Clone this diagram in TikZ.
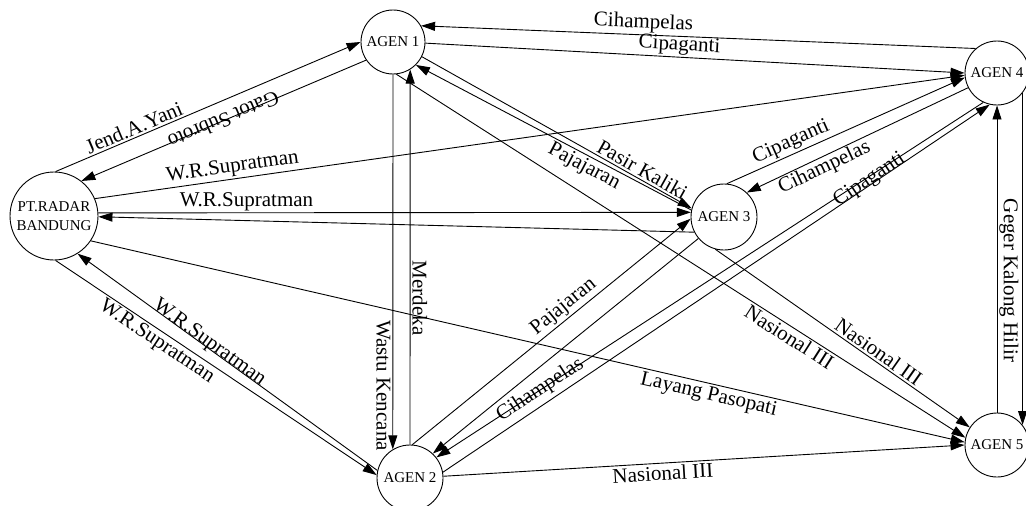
\documentclass[tikz,border=0pt]{standalone}
\usepackage{fontspec}
\setmainfont{Liberation Serif}
\usetikzlibrary{arrows.meta}

\begin{document}
\begin{tikzpicture}[
    x=1pt, y=-1pt,
    agen/.style={circle, draw, line width=0.9pt, inner sep=0pt, minimum size=64pt,
      align=center, font=\fontsize{15}{19}\selectfont},
    route/.style={draw, line width=0.9pt, -{Triangle[length=14pt,width=9pt]}},
    lbl/.style={sloped, inner sep=2pt, font=\fontsize{21}{23}\selectfont},
    vlbl/.style={rotate=-90, inner sep=2pt, font=\fontsize{21}{23}\selectfont},
  ]
  \useasboundingbox (0,0) rectangle (1026,506);

  % === Nodes ===
  \node[agen, minimum size=88pt] (radar) at (54,216) {PT.RADAR\\BANDUNG};
  \node[agen] (agen1) at (393,42) {AGEN 1};
  \node[agen, minimum size=66pt] (agen3) at (724,217) {AGEN 3};
  \node[agen, minimum size=66pt] (agen2) at (410,478) {AGEN 2};
  \node[agen] (agen4) at (997,73) {AGEN 4};
  \node[agen] (agen5) at (997,445) {AGEN 5};

  % === From / to PT.RADAR ===
  \draw[route] (radar.88) -- (agen1.180)
    node[lbl, pos=0.27, above] {Jend.A.Yani};
  \draw[route] (agen1.214) -- (radar.52)
    node[lbl, pos=0.5, allow upside down] {Gatot Subroto};
  \draw[route] (radar.23) -- (agen4.184)
    node[lbl, pos=0.16, above] {W.R.Supratman};
  \draw[route] (radar.4) -- (agen3.172)
    node[lbl, pos=0.25, above, inner sep=1pt] {W.R.Supratman};
  \draw[route] (agen3.207) -- (radar.-1);
  \draw[route] (radar.-88) -- (agen2.175)
    node[lbl, pos=0.335, below] {W.R.Supratman};
  \draw[route] (agen2.167) -- (radar.-58)
    node[lbl, pos=0.57, anchor=base] {W.R.Supratman};
  \draw[route] (radar.-34) -- (agen5.175)
    node[lbl, pos=0.71, below] {Layang Pasopati};

  % === AGEN 1 ===
  \draw[route] (agen1.-90) -- (agen2.121)
    node[vlbl, pos=0.83, anchor=north] {Wastu Kencana};
  \draw[route] (agen2.90) -- (agen1.-58)
    node[vlbl, pos=0.39, anchor=south] {Merdeka};
  \draw[route] (agen1.-2) -- (agen4.180)
    node[lbl, pos=0.47, above] {Cipaganti};
  \draw[route] (agen4.131) -- (agen1.30)
    node[lbl, pos=0.6, above] {Cihampelas};
  \draw[route] (agen1.-27) -- (agen3.165)
    node[lbl, pos=0.8, above] {Pasir Kaliki};
  \draw[route] (agen3.168) -- (agen1.-45)
    node[lbl, pos=0.37, below] {Pajajaran};
  \draw[route] (agen1.-84) -- (agen5.167)
    node[lbl, pos=0.7, below] {Nasional III};

  % === AGEN 2 / AGEN 3 ===
  \draw[route] (agen3.-105) -- (agen5.147)
    node[lbl, pos=0.62, above] {Nasional III};
  \draw[route] (agen2.86) -- (agen3.183)
    node[lbl, pos=0.57, above] {Pajajaran};
  \draw[route] (agen3.220) -- (agen2.47);
  \draw[route] (agen4.245) -- (agen2.38)
    node[lbl, pos=0.81] {Cihampelas};
  \draw[route] (agen2.10) -- (agen4.-103)
    node[lbl, pos=0.785, anchor=base] {Cipaganti};
  \draw[route] (agen2.3) -- (agen5.180)
    node[lbl, pos=0.42, below] {Nasional III};

  % === AGEN 3 / AGEN 4 / AGEN 5 ===
  \draw[route] (agen3.85) -- (agen4.188)
    node[lbl, pos=0.29, above] {Cipaganti};
  \draw[route] (agen4.207) -- (agen3.47)
    node[lbl, pos=0.67, below, inner sep=1pt] {Cihampelas};
  \draw[route] (agen5.90) -- (agen4.-90)
    node[vlbl, pos=0.43, anchor=south] {Geger Kalong Hilir};
  \draw[route] (agen4.-38) -- (agen5.38);

\end{tikzpicture}
\end{document}
